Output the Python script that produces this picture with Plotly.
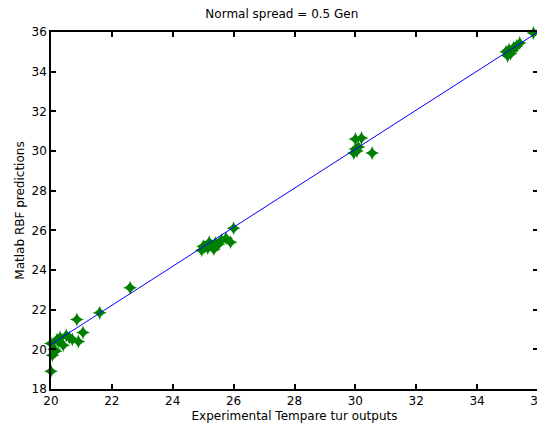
import plotly.graph_objects as go

# Experimental temperature outputs (x) vs Matlab RBF predictions (y)
exp_x = [20.0, 20.05, 20.1, 20.0, 20.2, 20.3, 20.5, 20.6, 20.7, 20.4, 20.15, 20.25,
         20.85, 21.05, 20.9, 21.6, 22.6,
         24.95, 25.05, 25.15, 25.3, 25.4, 25.5, 25.2, 25.6, 25.35, 25.0, 25.75, 25.9, 26.0,
         30.0, 30.2, 29.95, 30.0, 30.05, 30.1, 30.55,
         35.0, 34.95, 35.05, 35.1, 35.2, 35.3, 35.4, 35.15, 35.85]
pred_y = [18.9, 19.7, 20.0, 20.3, 20.5, 20.6, 20.7, 20.6, 20.5, 20.2, 19.9, 20.4,
          21.5, 20.85, 20.4, 21.85, 23.1,
          25.0, 25.15, 25.1, 25.2, 25.35, 25.3, 25.4, 25.5, 25.05, 25.2, 25.6, 25.4, 26.1,
          30.6, 30.65, 29.9, 30.1, 30.0, 30.2, 29.9,
          34.8, 35.0, 35.1, 34.9, 35.2, 35.3, 35.45, 35.05, 35.95]

fit_x = [20.0, 36.0]
fit_y = [20.25, 36.0]

x_ticks = [20, 22, 24, 26, 28, 30, 32, 34, 36]
y_ticks = [18, 20, 22, 24, 26, 28, 30, 32, 34, 36]

title_text = "Normal spread = 0.5 Gen"
x_label = "Experimental Tempare tur outputs"
y_label = "Matlab RBF predictions"

font = dict(family="DejaVu Sans, Arial, sans-serif", size=12, color="black")

fig = go.Figure()
fig.add_trace(go.Scatter(
    x=exp_x, y=pred_y, mode="markers",
    marker=dict(symbol="star-diamond", size=10, color="#008000",
                line=dict(width=0)),
    showlegend=False, cliponaxis=False))
fig.add_trace(go.Scatter(
    x=fit_x, y=fit_y, mode="lines",
    line=dict(color="#0000ff", width=1),
    showlegend=False))

axis_common = dict(
    showgrid=False, zeroline=False, showline=True, linecolor="black", linewidth=1.5,
    mirror="ticks", ticks="inside", ticklen=5, tickcolor="black", tickwidth=1.5,
    tickfont=font, automargin=False, ticklabeloverflow="allow")

fig.update_xaxes(range=[20, 36], tickvals=x_ticks, ticktext=[str(v) for v in x_ticks],
                 title=dict(text=x_label, font=font, standoff=4), **axis_common)
fig.update_yaxes(range=[18, 36], tickvals=y_ticks, ticktext=[str(v) for v in y_ticks],
                 title=dict(text=y_label, font=font, standoff=4), **axis_common)

fig.update_layout(
    width=537, height=419,
    margin=dict(l=43, r=7, t=24, b=38),
    paper_bgcolor="white", plot_bgcolor="white",
    title=dict(text=title_text, font=font, x=0.51, xanchor="center",
               y=0.986, yanchor="middle"),
    font=font,
)

fig.write_html("out.html")
